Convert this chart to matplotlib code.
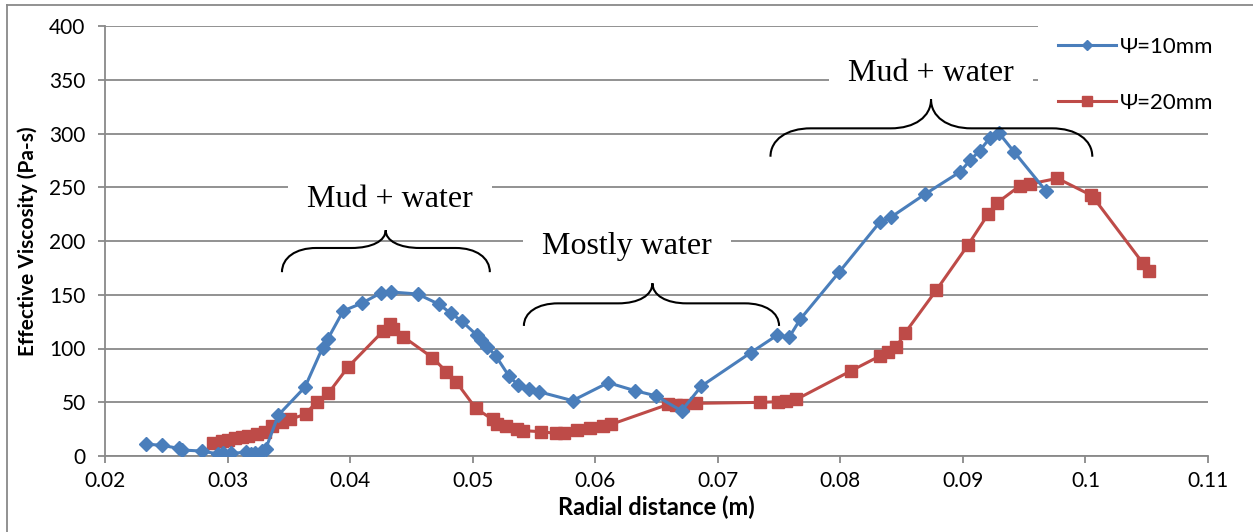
import matplotlib
matplotlib.use("Agg")
from matplotlib import pyplot as plt
from matplotlib.path import Path
from matplotlib.patches import PathPatch
from matplotlib.lines import Line2D
import numpy as np

# radial distance (m) and effective viscosity (Pa-s)
x_10mm = [0.02334, 0.02462, 0.02606, 0.02625, 0.02789, 0.02925, 0.0296, 0.03028,
          0.03147, 0.03188, 0.03224, 0.03278, 0.0331, 0.03414, 0.03631, 0.03775,
          0.03816, 0.03944, 0.04093, 0.04256, 0.0433, 0.0455, 0.04728, 0.04822,
          0.0491, 0.05032, 0.05072, 0.05121, 0.05189, 0.05298, 0.05372, 0.05458,
          0.0554, 0.05815, 0.06106, 0.06323, 0.06495, 0.06704, 0.06867, 0.07269,
          0.07487, 0.07582, 0.07674, 0.0799, 0.08321, 0.08411, 0.08688, 0.0898,
          0.0906, 0.09137, 0.09218, 0.09292, 0.09417, 0.09676]
y_10mm = [11, 10, 7, 5.6, 4.6, 1.9, 2.5, 2.5,
          3.4, 1.6, 3, 4.6, 6.2, 38, 64, 100.7,
          108.5, 135, 142, 152, 152.6, 150.7, 141, 132.7,
          125.6, 112.6, 108, 101.7, 93, 74, 66, 62.3,
          59.8, 51.5, 68.2, 60.8, 56, 42, 65.1, 96.1,
          112.6, 110.4, 127.4, 171, 217.4, 222, 243.4, 264.5,
          275.3, 284, 295.5, 300.8, 283, 246.8]

x_20mm = [0.02878, 0.02951, 0.03006, 0.0306, 0.03115, 0.03169, 0.03243, 0.03305,
          0.0336, 0.03441, 0.03509, 0.03637, 0.03727, 0.03822, 0.03985, 0.0427,
          0.04325, 0.04352, 0.04433, 0.04672, 0.04786, 0.04868, 0.05026, 0.05162,
          0.05200, 0.05276, 0.05358, 0.05412, 0.05556, 0.05679, 0.05744, 0.05853,
          0.05961, 0.06065, 0.06132, 0.06595, 0.06663, 0.06717, 0.06826, 0.07343,
          0.07492, 0.0756, 0.07642, 0.0809, 0.08322, 0.0839, 0.08458, 0.08525,
          0.08784, 0.09042, 0.09205, 0.09281, 0.09463, 0.09545, 0.09771, 0.10042,
          0.1007, 0.1047, 0.1052]
y_20mm = [12.4, 14, 14.9, 16.4, 18, 18.9, 20.5, 22,
          27.9, 32, 34, 39, 50.5, 58.3, 83, 116.3,
          122.5, 117.8, 111, 91.5, 78.4, 68.5, 44.3, 34,
          30, 27.9, 24.8, 23.6, 22.6, 21.1, 21.1, 24.2,
          26.4, 28.2, 29.5, 48, 47, 47.4, 49, 49.9,
          50.5, 51.5, 52.7, 79.4, 93, 97, 101.7, 114,
          154.4, 196.3, 224.8, 235.6, 251.2, 253, 258.3, 242.8,
          239.7, 179.2, 172.4]

x_ticks = [0.02, 0.03, 0.04, 0.05, 0.06, 0.07, 0.08, 0.09, 0.10, 0.11]
x_tick_labels = ['0.02', '0.03', '0.04', '0.05', '0.06', '0.07', '0.08', '0.09', '0.1', '0.11']
y_ticks = [0, 50, 100, 150, 200, 250, 300, 350, 400]

blue = '#4A7EBB'
red = '#BE4B48'
grid_col = '#898989'

fig = plt.figure(figsize=(12.53, 5.32), dpi=100)
ax = fig.add_axes([105/1253, 76/532, 1103/1253, 430/532])

ax.plot(x_10mm, y_10mm, color=blue, lw=2.2, marker='D', ms=7,
        label='Ψ=10mm', zorder=4)
ax.plot(x_20mm, y_20mm, color=red, lw=2.2, marker='s', ms=8.5,
        label='Ψ=20mm', zorder=3)

ax.set_xlim(0.02, 0.11)
ax.set_ylim(0, 400)
ax.set_xticks(x_ticks)
ax.set_xticklabels(x_tick_labels)
ax.set_yticks(y_ticks)
ax.grid(axis='y', color=grid_col, lw=1.3)
ax.set_axisbelow(True)
for s in ['top', 'right']:
    ax.spines[s].set_visible(False)
for s in ['left', 'bottom']:
    ax.spines[s].set_color(grid_col)
    ax.spines[s].set_linewidth(1.3)
ax.tick_params(colors=grid_col, labelcolor='black', length=5, width=1.3,
               labelsize=15, direction='out')
ax.tick_params(axis='y', pad=9)
ax.tick_params(axis='x', pad=6)
for lab in ax.get_xticklabels() + ax.get_yticklabels():
    lab.set_family('Lato')

ax.set_xlabel('Radial distance (m)', fontsize=17, fontweight='bold',
              family='Lato', labelpad=3)
ax.set_ylabel('Effective Viscosity (Pa-s)', fontsize=15, fontweight='bold',
              family='Lato', labelpad=8)


def brace(x0, x1, xt, y_end, y_mid, y_tip, w):
    verts = [(x0, y_end), (x0, y_end + 0.6*(y_mid - y_end)), (x0 + 0.4*w, y_mid), (x0 + w, y_mid),
             (xt - w, y_mid),
             (xt - 0.4*w, y_mid), (xt, y_mid + 0.4*(y_tip - y_mid)), (xt, y_tip),
             (xt, y_tip), (xt, y_mid + 0.4*(y_tip - y_mid)), (xt + 0.4*w, y_mid), (xt + w, y_mid),
             (x1 - w, y_mid),
             (x1 - 0.4*w, y_mid), (x1, y_end + 0.6*(y_mid - y_end)), (x1, y_end)]
    codes = [Path.MOVETO, Path.CURVE4, Path.CURVE4, Path.CURVE4,
             Path.LINETO,
             Path.CURVE4, Path.CURVE4, Path.CURVE4,
             Path.MOVETO, Path.CURVE4, Path.CURVE4, Path.CURVE4,
             Path.LINETO,
             Path.CURVE4, Path.CURVE4, Path.CURVE4]
    ax.add_patch(PathPatch(Path(verts, codes), fc='none', ec='black', lw=1.5,
                           zorder=8, clip_on=False))


box = dict(boxstyle='square,pad=0.6', fc='white', ec='none')
txt = dict(fontsize=23, family='Liberation Serif', ha='center', va='center',
           bbox=box, zorder=2.5)

brace(0.03444, 0.05140, 0.04290, 171, 193.5, 210, 0.0028)
ax.text(0.04325, 239, 'Mud + water', **txt)

brace(0.05418, 0.07500, 0.06467, 121, 142, 160.7, 0.0028)
ax.text(0.06260, 195, 'Mostly water', **txt)

brace(0.07430, 0.10056, 0.08740, 278.4, 304.8, 331.8, 0.0033)
ax.text(0.08740, 356, 'Mud + water', **txt)

leg = ax.legend(loc='upper left', bbox_to_anchor=(1027/1253, 1 - 6/532),
                bbox_transform=fig.transFigure, frameon=True, fancybox=False,
                edgecolor='none', facecolor='white', framealpha=1,
                fontsize=16, handlelength=2.6, handletextpad=0.2,
                labelspacing=1.6, borderpad=0.9, markerscale=0.8)
for t in leg.get_texts():
    t.set_family('Lato')
leg.set_zorder(6)

# outer chart-area border (left and top edges)
fig.add_artist(Line2D([7/1253, 7/1253], [0, 1 - 5/532], color=grid_col, lw=1.3))
fig.add_artist(Line2D([7/1253, 1], [1 - 5/532, 1 - 5/532], color=grid_col, lw=1.3))

plt.savefig('out.png', dpi=100)
